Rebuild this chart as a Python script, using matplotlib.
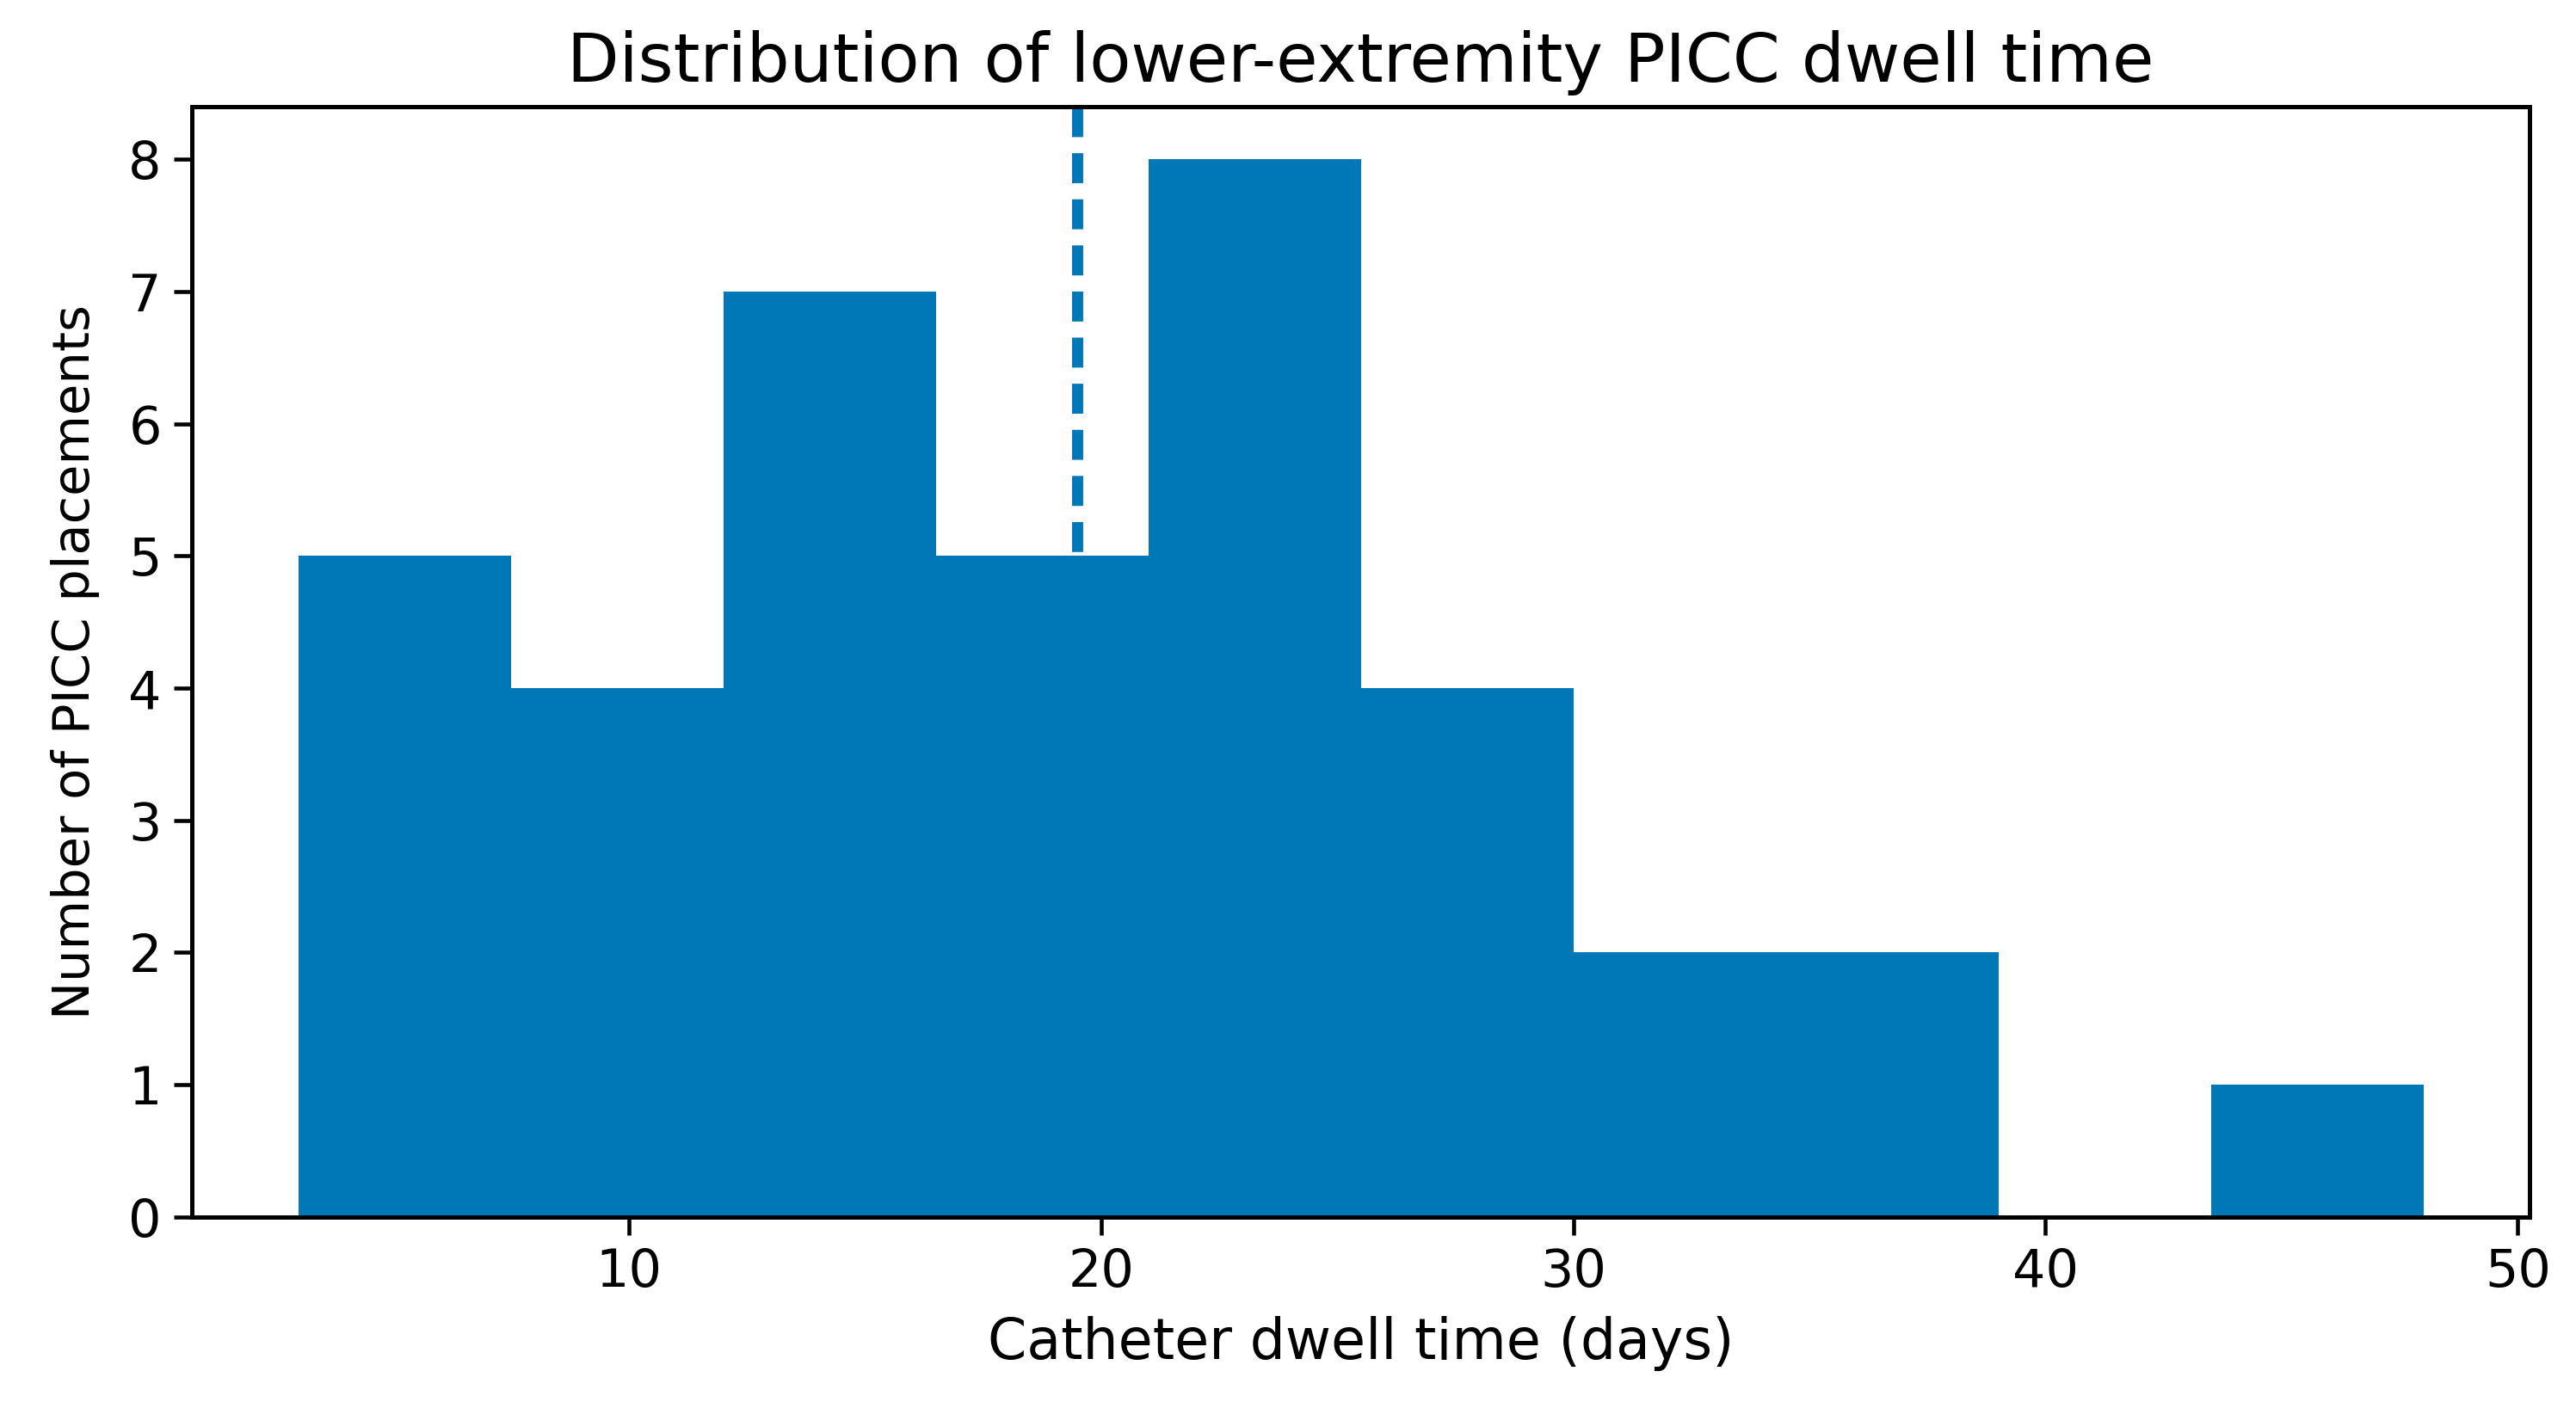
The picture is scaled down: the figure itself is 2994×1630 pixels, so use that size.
import matplotlib
matplotlib.use("Agg")
import matplotlib.pyplot as plt
import numpy as np

bin_edges = [3.0, 7.5, 12.0, 16.5, 21.0, 25.5, 30.0, 34.5, 39.0, 43.5, 48.0]
counts = [5, 4, 7, 5, 8, 4, 2, 2, 0, 1]
median_days = 19.5
xticks = [10, 20, 30, 40, 50]
yticks = [0, 1, 2, 3, 4, 5, 6, 7, 8]

color = "#0077b6"

fig = plt.figure(figsize=(2994 / 300, 1630 / 300), dpi=300)
ax = fig.add_axes([0.0745, 0.132, 0.9075, 0.792])

edges = np.array(bin_edges)
widths = np.diff(edges)
ax.bar(edges[:-1], counts, width=widths, align="edge", color=color, linewidth=0)
ax.plot([median_days, median_days], [1, 0], transform=ax.get_xaxis_transform(),
        color=color, linewidth=3.1, linestyle=(0, (2.7, 1.45)), solid_capstyle="butt")

ax.set_xticks(xticks)
ax.set_yticks(yticks)
ax.tick_params(labelsize=14.5, width=1.1, length=5)
for s in ax.spines.values():
    s.set_linewidth(1.2)

ax.set_title("Distribution of lower-extremity PICC dwell time", fontsize=18.9, pad=7)
ax.set_xlabel("Catheter dwell time (days)", fontsize=15.6, labelpad=5)
ax.set_ylabel("Number of PICC placements", fontsize=14.2, labelpad=8)

fig.savefig("out.png", dpi=300)
